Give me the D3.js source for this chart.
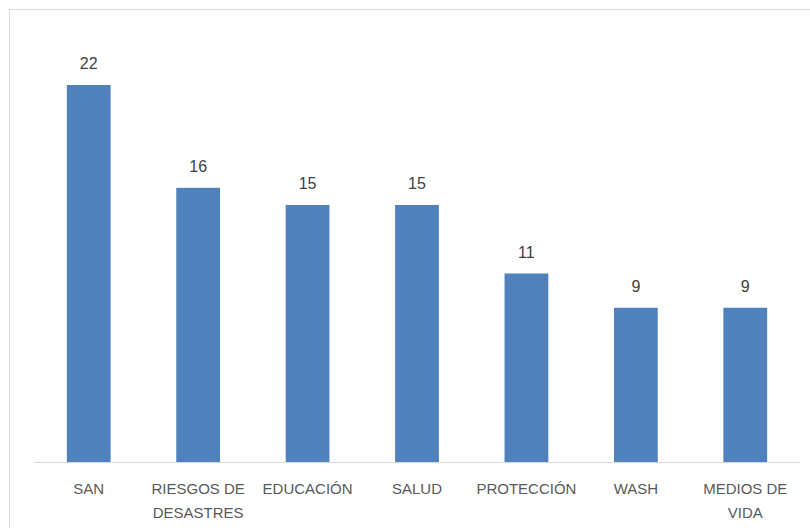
<!DOCTYPE html>
<html>
<head>
<meta charset="utf-8">
<script src="https://cdn.jsdelivr.net/npm/d3@7"></script>
<style>
  body { margin: 0; background: #fff; }
  text { font-family: "Liberation Sans", Arial, sans-serif; }
</style>
</head>
<body>
<script>
// data
let categories = ["SAN", "RIESGOS DE|DESASTRES", "EDUCACIÓN", "SALUD", "PROTECCIÓN", "WASH", "MEDIOS DE|VIDA"];
let values = [22, 16, 15, 15, 11, 9, 9];

let width = 810, height = 528;
let left = 34, right = 800, baseY = 462, topY = 85;

let svg = d3.select("body").append("svg")
    .attr("width", width)
    .attr("height", height);

svg.append("rect")
    .attr("width", width).attr("height", height)
    .attr("fill", "#fff");

// chart border
svg.append("rect")
    .attr("x", 9.5).attr("y", 9.5)
    .attr("width", 820).attr("height", 540)
    .attr("fill", "none")
    .attr("stroke", "#d9d9d9");

let x = d3.scaleBand()
    .domain(d3.range(categories.length))
    .range([left, right])
    .paddingInner(0.6)
    .paddingOuter(0.3);

let y = d3.scaleLinear()
    .domain([0, 22])
    .range([baseY, topY]);

svg.selectAll(".bar")
    .data(values)
    .enter()
    .append("rect")
    .attr("class", "bar")
    .attr("x", (d, i) => x(i))
    .attr("y", d => y(d))
    .attr("width", x.bandwidth())
    .attr("height", d => baseY - y(d))
    .attr("fill", "#4f81bd");

svg.selectAll(".val")
    .data(values)
    .enter()
    .append("text")
    .attr("class", "val")
    .attr("x", (d, i) => x(i) + x.bandwidth() / 2)
    .attr("y", d => y(d) - 16)
    .attr("text-anchor", "middle")
    .attr("font-size", 16)
    .attr("fill", "#404040")
    .text(d => d);

// baseline
svg.append("line")
    .attr("x1", left).attr("x2", right)
    .attr("y1", baseY + 0.5).attr("y2", baseY + 0.5)
    .attr("stroke", "#d9d9d9");

let labels = svg.selectAll(".cat")
    .data(categories)
    .enter()
    .append("text")
    .attr("class", "cat")
    .attr("x", (d, i) => x(i) + x.bandwidth() / 2)
    .attr("y", 494)
    .attr("text-anchor", "middle")
    .attr("font-size", 15)
    .attr("fill", "#595959");

labels.each(function (d) {
    let parts = d.split("|");
    let t = d3.select(this);
    parts.forEach((p, k) => {
        t.append("tspan")
            .attr("x", t.attr("x"))
            .attr("dy", k == 0 ? 0 : 24)
            .text(p);
    });
});
</script>
</body>
</html>
